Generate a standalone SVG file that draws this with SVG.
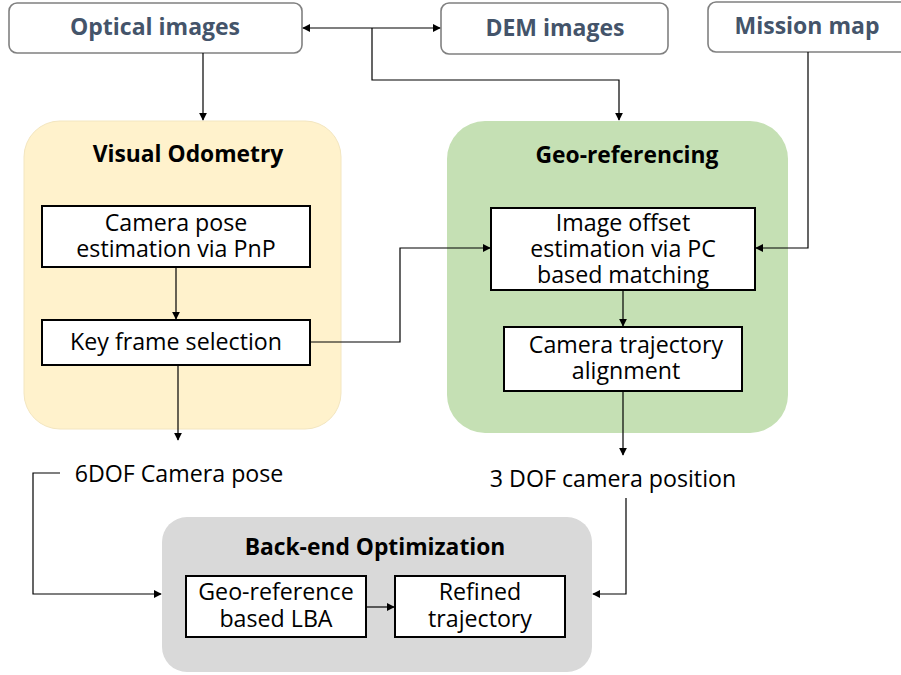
<svg xmlns="http://www.w3.org/2000/svg" width="901" height="675" viewBox="0 0 901 675">
  <style>
    .src rect { fill: #ffffff; stroke: #808080; stroke-width: 1.6; }
    .src text { font-family: "Open Sans", "Noto Sans", sans-serif; font-weight: bold; font-size: 23px; fill: #44546a; text-anchor: middle; }
    .group-title { font-family: "Open Sans", "Noto Sans", sans-serif; font-weight: bold; font-size: 22.8px; fill: #000000; text-anchor: middle; }
    .step rect { fill: #ffffff; stroke: #000000; stroke-width: 2; }
    .step text, .label { font-family: "Open Sans", "Noto Sans", sans-serif; font-size: 23.2px; fill: #000000; text-anchor: middle; }
    .conn path { fill: none; stroke: #000000; stroke-width: 1.2; }
  </style>
  <defs>
    <marker id="arrow" viewBox="0 0 10 10" refX="9" refY="5" markerWidth="8" markerHeight="8" markerUnits="userSpaceOnUse" orient="auto-start-reverse">
      <path d="M0,0 L10,5 L0,10 Z" fill="#000000"/>
    </marker>
  </defs>
  <rect width="901" height="675" fill="#ffffff"/>

  <!-- input sources -->
  <g id="optical-images" class="src">
    <rect x="9" y="3" width="293" height="50" rx="8"/>
    <text x="155" y="35">Optical images</text>
  </g>
  <g id="dem-images" class="src">
    <rect x="441" y="3" width="227" height="51" rx="8"/>
    <text x="555" y="36">DEM images</text>
  </g>
  <g id="mission-map" class="src">
    <rect x="708" y="2" width="200" height="50" rx="8"/>
    <text x="807" y="34">Mission map</text>
  </g>

  <!-- visual odometry stage -->
  <g id="visual-odometry">
    <rect x="24" y="121" width="317" height="308" rx="36" fill="#fff2cc" stroke="#f3e6c0" stroke-width="1"/>
    <text class="group-title" x="188" y="162">Visual Odometry</text>
  </g>
  <g id="camera-pose-pnp" class="step">
    <rect x="42" y="206" width="268" height="61"/>
    <text x="176" y="231">Camera pose</text>
    <text x="176" y="257">estimation via PnP</text>
  </g>
  <g id="key-frame-selection" class="step">
    <rect x="42" y="320" width="268" height="45"/>
    <text x="176" y="350">Key frame selection</text>
  </g>

  <!-- geo-referencing stage -->
  <g id="geo-referencing">
    <rect x="447" y="121" width="341" height="312" rx="38" fill="#c5e0b4"/>
    <text class="group-title" x="627" y="163">Geo-referencing</text>
  </g>
  <g id="image-offset" class="step">
    <rect x="491" y="208" width="264" height="82"/>
    <text x="623" y="231">Image offset</text>
    <text x="623" y="257">estimation via PC</text>
    <text x="623" y="283">based matching</text>
  </g>
  <g id="trajectory-alignment" class="step">
    <rect x="504" y="327" width="238" height="64"/>
    <text x="626" y="353">Camera trajectory</text>
    <text x="626" y="379">alignment</text>
  </g>

  <!-- intermediate outputs -->
  <g id="pose-6dof">
    <text class="label" x="179" y="482">6DOF Camera pose</text>
  </g>
  <g id="position-3dof">
    <text class="label" x="613" y="487">3 DOF camera position</text>
  </g>

  <!-- back-end optimization stage -->
  <g id="back-end">
    <rect x="162" y="517" width="430" height="155" rx="25" fill="#d9d9d9"/>
    <text class="group-title" x="375" y="555">Back-end Optimization</text>
  </g>
  <g id="geo-lba" class="step">
    <rect x="186" y="576" width="180" height="61"/>
    <text x="276" y="600">Geo-reference</text>
    <text x="276" y="627">based LBA</text>
  </g>
  <g id="refined-trajectory" class="step">
    <rect x="395" y="576" width="170" height="61"/>
    <text x="480" y="600">Refined</text>
    <text x="480" y="627">trajectory</text>
  </g>

  <!-- connectors -->
  <g id="connectors" class="conn">
    <path d="M303,28 L440,28" marker-start="url(#arrow)" marker-end="url(#arrow)"/>
    <path d="M372,28 L372,80 L619,80 L619,120" marker-end="url(#arrow)"/>
    <path d="M203,53 L203,120" marker-end="url(#arrow)"/>
    <path d="M808,52 L808,248 L756,248" marker-end="url(#arrow)"/>
    <path d="M176,267 L176,319" marker-end="url(#arrow)"/>
    <path d="M310,342 L400,342 L400,248 L490,248" marker-end="url(#arrow)"/>
    <path d="M178,365 L178,440" marker-end="url(#arrow)"/>
    <path d="M623,290 L623,326" marker-end="url(#arrow)"/>
    <path d="M623,391 L623,455" marker-end="url(#arrow)"/>
    <path d="M60,473 L33,473 L33,594 L161,594" marker-end="url(#arrow)"/>
    <path d="M626,498 L626,594 L593,594" marker-end="url(#arrow)"/>
    <path d="M366,607 L394,607" marker-end="url(#arrow)"/>
  </g>
</svg>
